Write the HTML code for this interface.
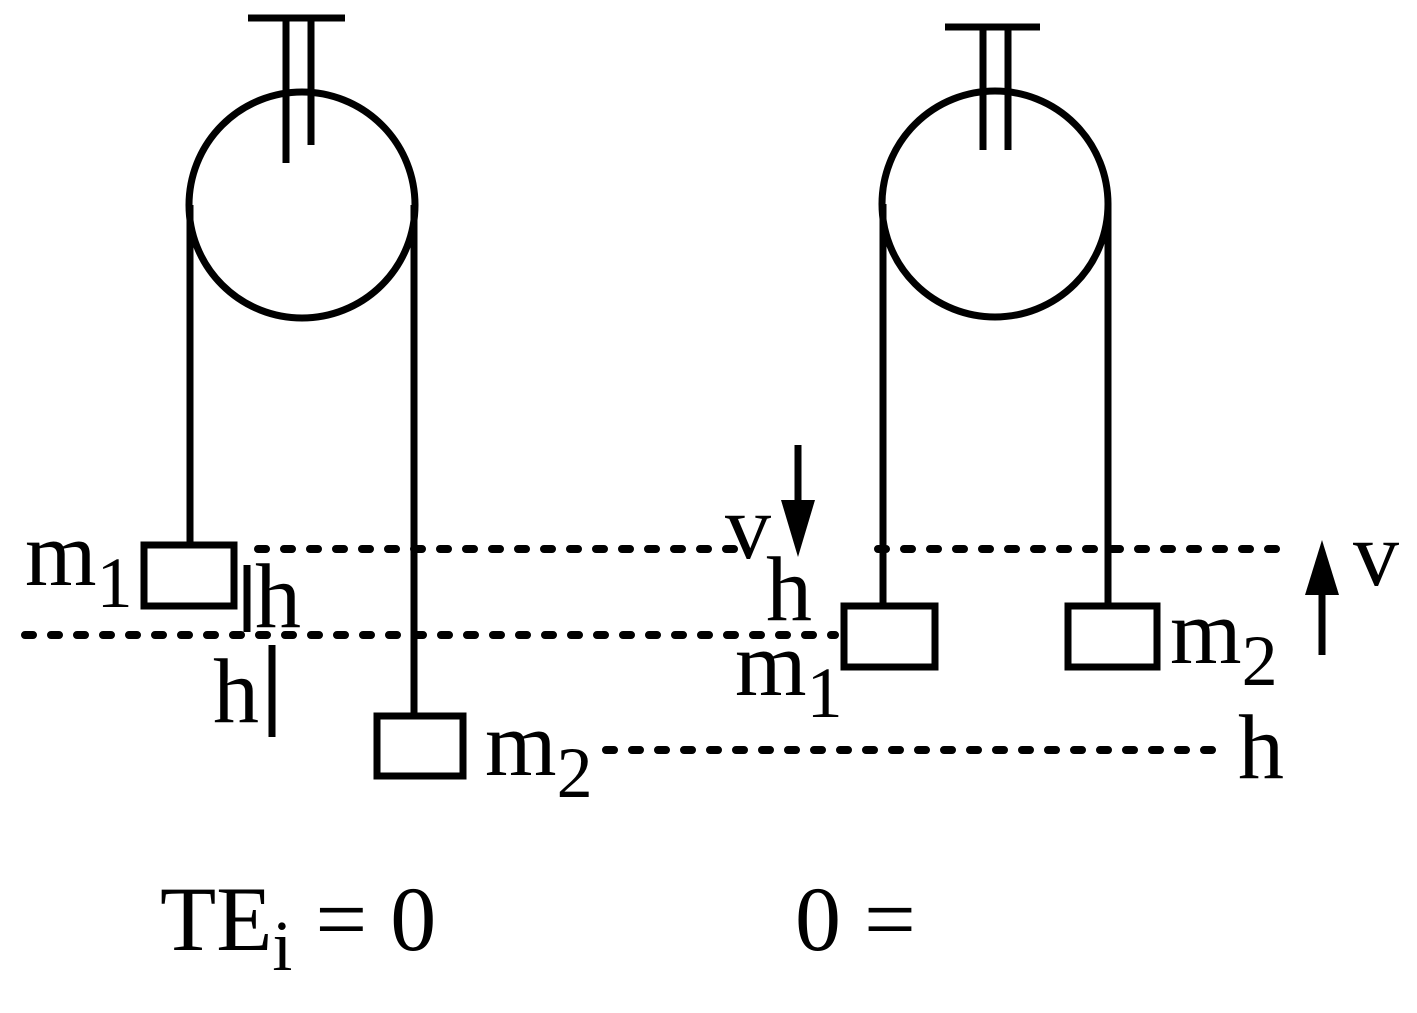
<!DOCTYPE html>
<html><head><meta charset="utf-8"><style>html,body{margin:0;padding:0;background:#fff}svg{display:block}
text{font-family:"Liberation Serif","Times New Roman",serif}</style></head>
<body>
<svg width="1417" height="1013" viewBox="0 0 1417 1013" xmlns="http://www.w3.org/2000/svg">
<g stroke="#000" stroke-width="7" fill="none">
<circle cx="302" cy="205" r="113"/>
<line x1="248" y1="18" x2="345" y2="18"/>
<line x1="286" y1="18" x2="286" y2="163"/>
<line x1="311" y1="18" x2="311" y2="145"/>
<line x1="190" y1="205" x2="190" y2="545"/>
<line x1="414" y1="205" x2="414" y2="715"/>
<rect x="144" y="545" width="90" height="61"/>
<rect x="377" y="716" width="86" height="60"/>
<circle cx="995" cy="204" r="113"/>
<line x1="945" y1="27" x2="1040" y2="27"/>
<line x1="983" y1="27" x2="983" y2="150"/>
<line x1="1008" y1="27" x2="1008" y2="150"/>
<line x1="883" y1="204" x2="883" y2="605"/>
<line x1="1108" y1="204" x2="1108" y2="605"/>
<rect x="844" y="606" width="91" height="61"/>
<rect x="1068" y="606" width="89" height="61"/>
<g stroke-linecap="round" stroke-dasharray="8 18" stroke-width="8">
<line x1="258" y1="549" x2="745" y2="549"/>
<line x1="878" y1="549" x2="1290" y2="549"/>
<line x1="25" y1="635" x2="835" y2="635"/>
<line x1="606" y1="750" x2="1225" y2="750"/>
</g>
<line x1="247" y1="565" x2="247" y2="632"/>
<line x1="272" y1="645" x2="272" y2="737"/>
<line x1="798" y1="445" x2="798" y2="510"/>
<line x1="1322" y1="655" x2="1322" y2="590"/>
</g>
<polygon points="781,500 815,500 798,557" fill="#000"/>
<polygon points="1305,595 1339,595 1322,540" fill="#000"/>
<g font-size="92" fill="#000">
<text x="25" y="585">m<tspan font-size="72" dy="22">1</tspan></text>
<text x="255" y="627">h</text>
<text x="213" y="722">h</text>
<text x="485" y="775">m<tspan font-size="72" dy="22">2</tspan></text>
<text x="725" y="558">v</text>
<text x="766" y="620">h</text>
<text x="735" y="695">m<tspan font-size="72" dy="22">1</tspan></text>
<text x="1170" y="663">m<tspan font-size="72" dy="22">2</tspan></text>
<text x="1353" y="585">v</text>
<text x="1238" y="778">h</text>
<text x="160" y="950">TE<tspan font-size="72" dy="20">i</tspan><tspan dy="-20"> = 0</tspan></text>
<text x="795" y="950">0 =</text>
</g>
</svg>
</body></html>
